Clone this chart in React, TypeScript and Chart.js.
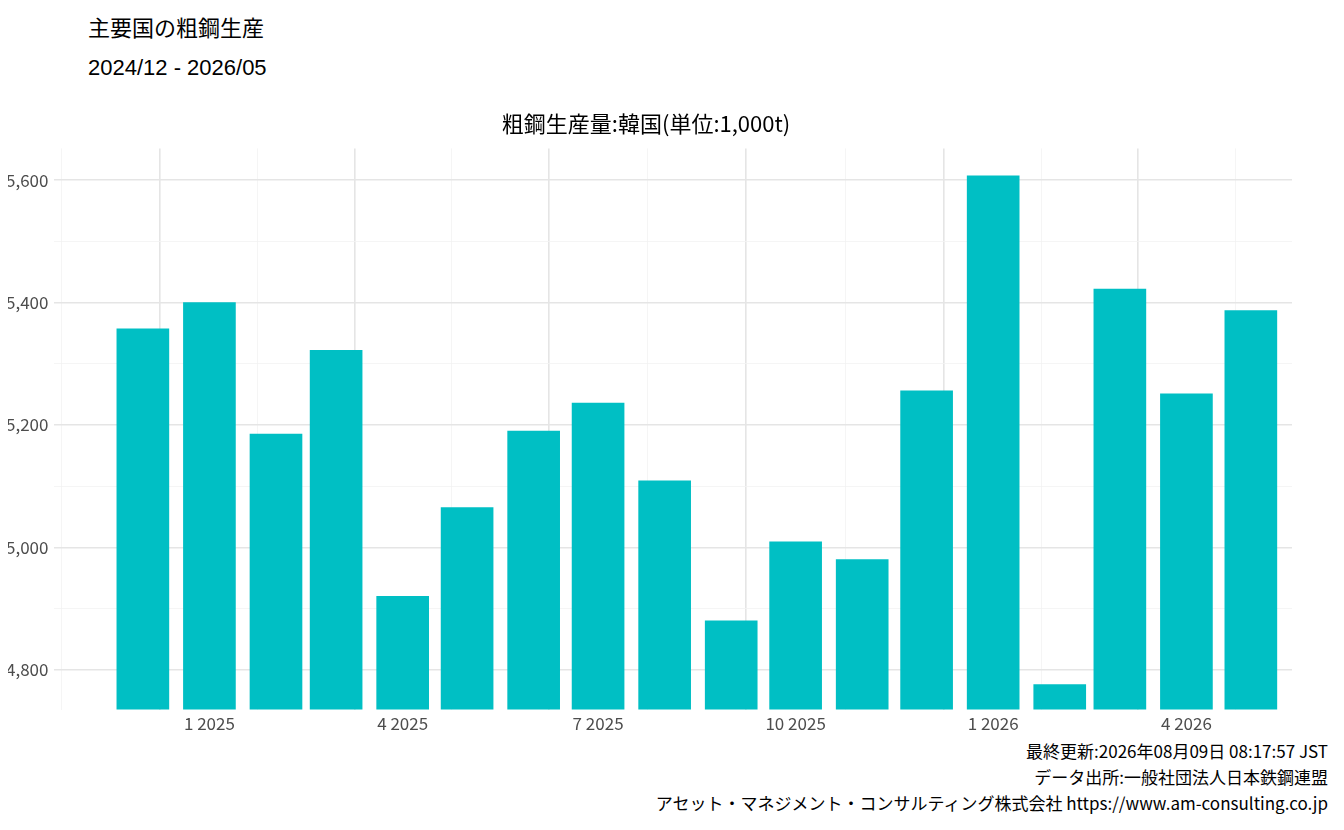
import React, { useEffect, useRef } from "react";
import { Chart, registerables } from "chart.js";
Chart.register(...registerables);

const months = ["2024-12","2025-01","2025-02","2025-03","2025-04","2025-05","2025-06","2025-07","2025-08","2025-09","2025-10","2025-11","2025-12","2026-01","2026-02","2026-03","2026-04","2026-05"];
const values = [5357,5400,5185,5322,4920,5065,5190,5236,5109,4880,5009,4980,5256,5607,4776,5422,5251,5387];
const majorTicks = ["2025-01","2025-04","2025-07","2025-10","2026-01","2026-04"];

const base = Date.UTC(2024, 11, 1);
const dayOf = (m: string) => { const [y, mo] = m.split("-").map(Number); return (Date.UTC(y, mo - 1, 1) - base) / 86400000; };
const FONT = "'Noto Sans CJK JP', 'Liberation Sans', sans-serif";

export default function App() {
  const ref = useRef<HTMLCanvasElement>(null);
  useEffect(() => {
    const majors = majorTicks.map(dayOf);
    const minors: number[] = [];
    const all = [-92 + 31 + 31 + 30 - 92 + 31, ...majors]; // placeholder
    const pts = [dayOf("2024-10-01".slice(0,7)), ...majors, dayOf("2026-07")];
    for (let i = 0; i < pts.length - 1; i++) minors.push((pts[i] + pts[i + 1]) / 2);
    void all;
    const labelMap: Record<number, string> = {};
    majorTicks.forEach(m => { const [y, mo] = m.split("-").map(Number); labelMap[dayOf(m)] = `${mo} ${y}`; });
    const chart = new Chart(ref.current!, {
      type: "bar",
      data: { datasets: [{ data: months.map((m, i) => ({ x: dayOf(m), y: values[i] })), backgroundColor: "#00BFC4", barThickness: 52 }] },
      options: {
        animation: false, responsive: false,
        layout: { padding: { left: 0, right: 52, top: 0 } },
        plugins: {
          legend: { display: false }, tooltip: { enabled: false },
          title: { display: true, text: "粗鋼生産量:韓国(単位:1,000t)", font: { family: FONT, size: 22, weight: "normal" }, color: "#000", padding: { top: 12, bottom: 12 } },
        },
        scales: {
          x: {
            type: "linear", min: -19, max: 513,
            afterBuildTicks: (s: any) => { s.ticks = [...majors, ...minors].sort((a, b) => a - b).map(v => ({ value: v })); },
            ticks: { autoSkip: false, maxRotation: 0, callback: (v: any) => labelMap[v] ?? "", font: { family: FONT, size: 17 }, color: "#4d4d4d", padding: 4 },
            grid: { color: (c: any) => labelMap[c.tick?.value] ? "#e5e5e5" : "#f2f2f2", lineWidth: (c: any) => labelMap[c.tick?.value] ? 1.6 : 0.8, drawTicks: false },
            border: { display: false },
          },
          y: {
            min: 4735, max: 5652,
            afterBuildTicks: (s: any) => { const t = []; for (let v = 4700; v <= 5700; v += 100) if (v >= 4735 && v <= 5652) t.push({ value: v }); s.ticks = t; },
            ticks: { callback: (v: any) => (v % 200 === 0 ? v.toLocaleString("en-US") : ""), font: { family: FONT, size: 17 }, color: "#4d4d4d", padding: 6 },
            grid: { color: (c: any) => c.tick?.value % 200 === 0 ? "#e5e5e5" : "#f2f2f2", lineWidth: (c: any) => c.tick?.value % 200 === 0 ? 1.6 : 0.8, drawTicks: false },
            border: { display: false },
          },
        },
      } as any,
    });
    return () => chart.destroy();
  }, []);
  const cap: React.CSSProperties = { position: "absolute", right: 16, fontSize: 17, fontFamily: FONT, color: "#000", whiteSpace: "nowrap" };
  return (
    <div style={{ position: "relative", width: 1344, height: 830, margin: -8, background: "#fff", fontFamily: FONT }}>
      <div style={{ position: "absolute", left: 88, top: 10, fontSize: 22 }}>主要国の粗鋼生産</div>
      <div style={{ position: "absolute", left: 88, top: 55, fontSize: 22, fontFamily: "'Liberation Sans', sans-serif" }}>2024/12 - 2026/05</div>
      <canvas ref={ref} width={1344} height={640} style={{ position: "absolute", left: 0, top: 98 }} />
      <div style={{ ...cap, top: 738 }}>最終更新:2026年08月09日 08:17:57 JST</div>
      <div style={{ ...cap, top: 764 }}>データ出所:一般社団法人日本鉄鋼連盟</div>
      <div style={{ ...cap, top: 790 }}>アセット・マネジメント・コンサルティング株式会社 https://www.am-consulting.co.jp</div>
    </div>
  );
}
